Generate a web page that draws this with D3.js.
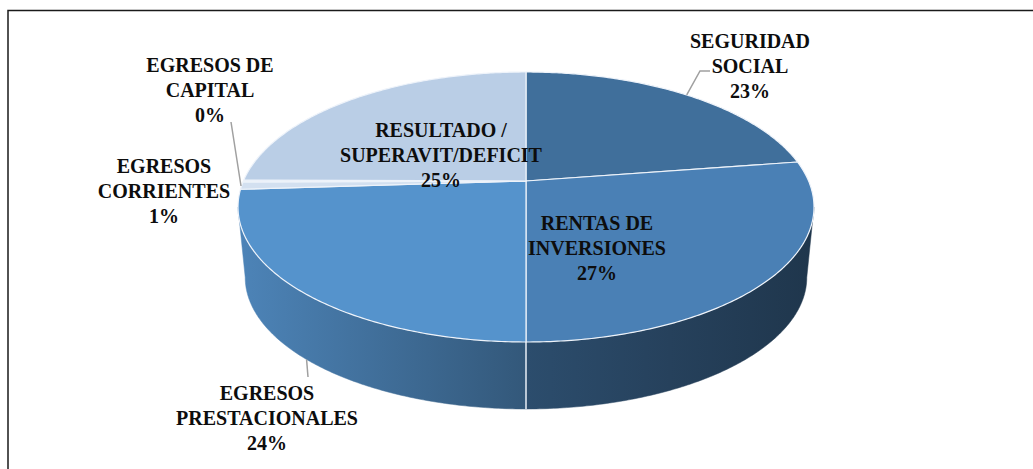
<!DOCTYPE html>
<html>
<head>
<meta charset="utf-8">
<script src="https://cdn.jsdelivr.net/npm/d3@7/dist/d3.min.js"></script>
<style>
  html, body { margin: 0; padding: 0; background: #fff; }
  svg { display: block; }
  text { font-family: "Liberation Serif", "DejaVu Serif", serif; font-weight: bold; }
</style>
</head>
<body>
<svg id="chart" width="1033" height="469"></svg>
<script>
// ---- data ----
const categories = ["SEGURIDAD SOCIAL", "RENTAS DE INVERSIONES", "EGRESOS PRESTACIONALES",
                    "EGRESOS CORRIENTES", "EGRESOS DE CAPITAL", "RESULTADO / SUPERAVIT/DEFICIT"];
const values = [22.6, 27.4, 24.0, 0.9, 0.2, 24.9];
const labelLines = [["SEGURIDAD", "SOCIAL"], ["RENTAS DE", "INVERSIONES"], ["EGRESOS", "PRESTACIONALES"],
                    ["EGRESOS", "CORRIENTES"], ["EGRESOS DE", "CAPITAL"], ["RESULTADO /", "SUPERAVIT/DEFICIT"]];
const colors = ["#406f9b", "#4a80b5", "#5593cc", "#d3e0f0", "#e4ecf6", "#bacee6"];

// ---- layout (not data) ----
const cx = 526, cy = 181, A0 = 282.6, B0 = 130, K = 0.1926, DEPTH = 71, SHRINK = 0.025;
const labelLayout = [
  {x: 750, y: 48}, {x: 597, y: 230}, {x: 267, y: 400},
  {x: 164, y: 173}, {x: 210, y: 72}, {x: 441, y: 137}
];
const lineH = 25;

const svg = d3.select("#chart");

// frame
svg.append("rect").attr("x", 8).attr("y", 10.5).attr("width", 1200).attr("height", 700)
  .attr("fill", "none").attr("stroke", "#1a1a1a").attr("stroke-width", 1.5);

// projection: theta clockwise from top (far side), h level 0 (top) .. 1 (bottom)
function proj(theta, h) {
  const s = 1 - SHRINK * h;
  const A = A0 * s, B = B0 * s, Y0 = cy + DEPTH * h;
  const u = Math.sin(theta), v = Math.cos(theta), w = 1 + K * v;
  return [cx + A * u / w, Y0 - B * v / w];
}

const total = d3.sum(values);
const pie = d3.pie().sort(null).value(d => d).startAngle(0).endAngle(2 * Math.PI);
const arcs = pie(values);
const line = d3.line();

function sampleArc(a, b, h) {
  const n = Math.max(2, Math.ceil(Math.abs(b - a) / 0.01));
  return d3.range(n + 1).map(i => proj(a + (b - a) * i / n, h));
}

// lighting across x for the side wall
const defs = svg.append("defs");
const lightScale = d3.scaleLinear().domain([0, 0.5, 1]).range([0.9, 0.6, 0.42]);
arcs.forEach((d, i) => {
  const g = defs.append("linearGradient").attr("id", "side" + i)
    .attr("gradientUnits", "userSpaceOnUse").attr("x1", cx - A0 * 1.02).attr("x2", cx + A0 * 1.02)
    .attr("y1", 0).attr("y2", 0);
  const base = d3.rgb(colors[i]);
  [0, 0.25, 0.5, 0.75, 1].forEach(t => {
    const f = lightScale(t);
    g.append("stop").attr("offset", t)
      .attr("stop-color", d3.rgb(base.r * f, base.g * f, base.b * f).formatHex());
  });
});

// side walls (visible front portion)
const ts = Math.acos(-K), te = 2 * Math.PI - ts;
const sideG = svg.append("g");
arcs.forEach((d, i) => {
  const a = Math.max(d.startAngle, ts), b = Math.min(d.endAngle, te);
  if (b <= a) return;
  const pts = sampleArc(a, b, 0).concat(sampleArc(b, a, 1));
  sideG.append("path").attr("d", line(pts) + "Z").attr("fill", "url(#side" + i + ")")
    .attr("stroke", "url(#side" + i + ")").attr("stroke-width", 0.5);
});
// slice boundaries on the wall
arcs.forEach(d => {
  const t = d.startAngle;
  if (t > ts && t < te) {
    sideG.append("path").attr("d", line([proj(t, 0), proj(t, 1)]))
      .attr("stroke", "#e8eef6").attr("stroke-width", 1.5).attr("fill", "none");
  }
});

// top faces
const topG = svg.append("g");
arcs.forEach((d, i) => {
  const pts = [[cx, cy]].concat(sampleArc(d.startAngle, d.endAngle, 0));
  topG.append("path").attr("d", line(pts) + "Z").attr("fill", colors[i])
    .attr("stroke", "#eef3fa").attr("stroke-width", 1.2).attr("stroke-linejoin", "round");
});

// leader lines
const leaderColor = "#a0a0a0";
function leader(pts) {
  svg.append("path").attr("d", line(pts)).attr("fill", "none")
    .attr("stroke", leaderColor).attr("stroke-width", 1.5);
}
const mid = d => (d.startAngle + d.endAngle) / 2;
leader([proj(mid(arcs[0]), 0), [700, 71], [710, 71]]);
leader([proj(mid(arcs[2]), 1), [308, 377]]);
leader([[241, 186], [231, 122]]);

// labels
arcs.forEach((d, i) => {
  const L = labelLayout[i];
  const lines = labelLines[i].concat([Math.round(values[i] / total * 100) + "%"]);
  const t = svg.append("text").attr("text-anchor", "middle").attr("font-size", 20)
    .attr("fill", "#0d0d0d");
  lines.forEach((s, j) => {
    t.append("tspan").attr("x", L.x).attr("y", L.y + j * lineH).text(s);
  });
});
</script>
</body>
</html>
